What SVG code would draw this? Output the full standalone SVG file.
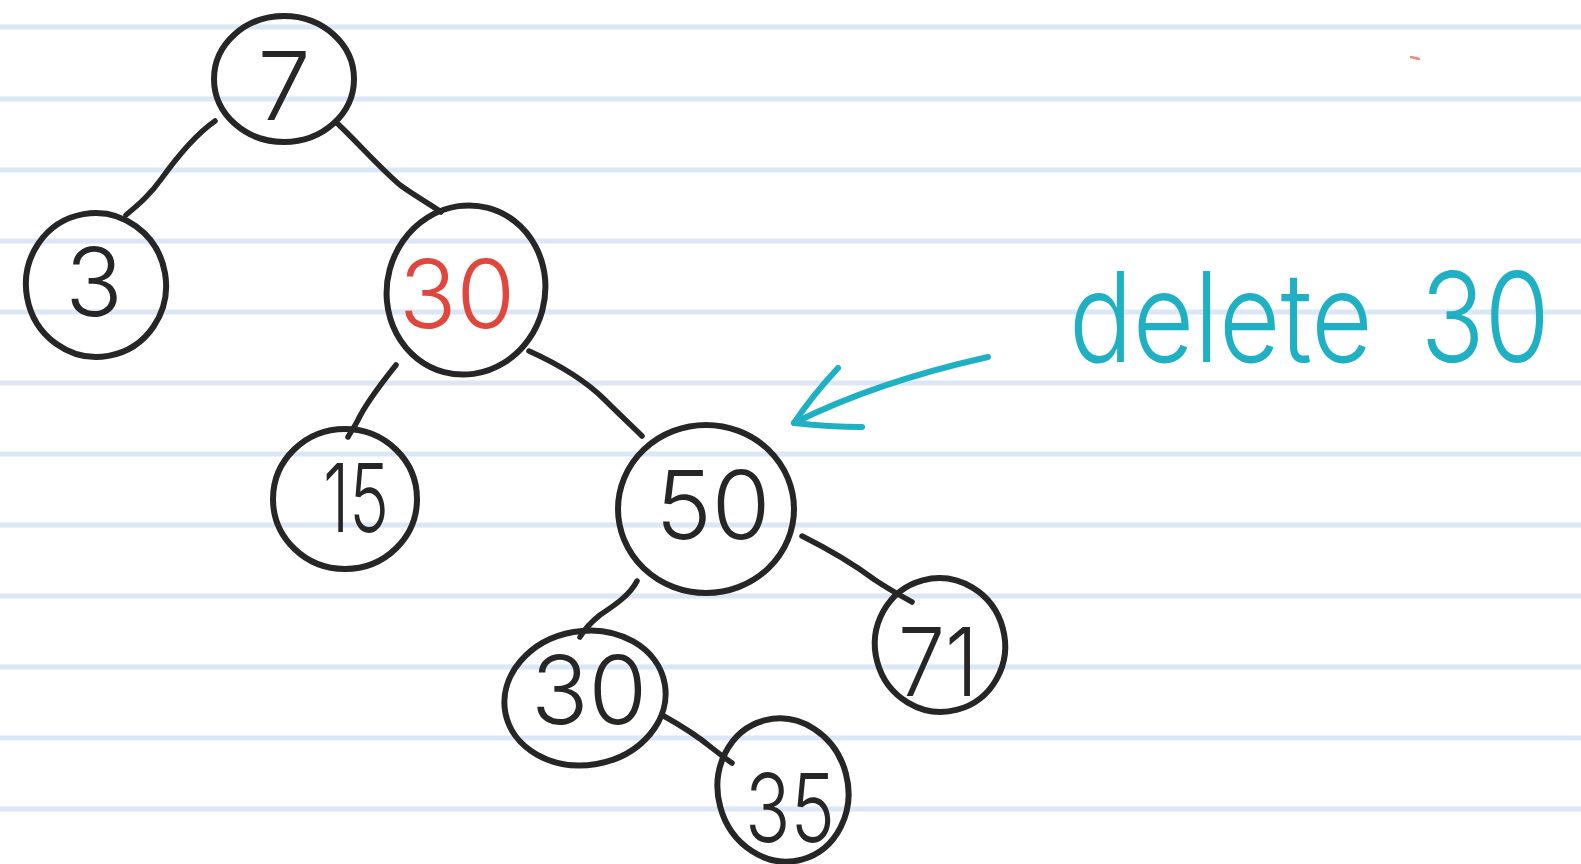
<svg xmlns="http://www.w3.org/2000/svg" width="1581" height="864" viewBox="0 0 1581 864">
  <style>
    .rule { stroke: #dbe6f6; stroke-width: 5; }
    .ring { fill: none; stroke: #262626; stroke-width: 6; stroke-linecap: round; }
    .edge { fill: none; stroke: #262626; stroke-width: 5.5; stroke-linecap: round; stroke-linejoin: round; }
    .num { font-family: Inter, "Open Sans", "Liberation Sans", sans-serif; font-weight: 300; font-size: 95px; fill: #262626; text-anchor: middle; }
    .hot { fill: #e0463c; }
    .note { font-family: Inter, "Open Sans", "Liberation Sans", sans-serif; font-weight: 300; font-size: 106px; fill: #1fb0c3; word-spacing: 18px; }
    .pen { fill: none; stroke: #1fb0c3; stroke-width: 6; stroke-linecap: round; stroke-linejoin: round; }
  </style>

  <rect width="1581" height="864" fill="#ffffff"/>

  <!-- ruled paper -->
  <g id="paper">
    <line class="rule" x1="0" y1="27" x2="1581" y2="27"/>
    <line class="rule" x1="0" y1="99" x2="1581" y2="99"/>
    <line class="rule" x1="0" y1="170" x2="1581" y2="170"/>
    <line class="rule" x1="0" y1="241" x2="1581" y2="241"/>
    <line class="rule" x1="0" y1="312" x2="1581" y2="312"/>
    <line class="rule" x1="0" y1="383" x2="1581" y2="383"/>
    <line class="rule" x1="0" y1="454" x2="1581" y2="454"/>
    <line class="rule" x1="0" y1="525" x2="1581" y2="525"/>
    <line class="rule" x1="0" y1="596" x2="1581" y2="596"/>
    <line class="rule" x1="0" y1="667" x2="1581" y2="667"/>
    <line class="rule" x1="0" y1="738" x2="1581" y2="738"/>
    <line class="rule" x1="0" y1="809" x2="1581" y2="809"/>
  </g>

  <!-- tree edges -->
  <g id="connectors">
    <path class="edge" d="M215,121 C195,135 175,160 162,178 C150,195 138,205 126,215"/>
    <path class="edge" d="M338,124 C360,145 380,168 400,185 C415,196 430,204 441,212"/>
    <path class="edge" d="M396,365 C380,385 365,405 358,420 C354,428 350,433 348,437"/>
    <path class="edge" d="M529,351 C560,365 585,380 605,400 C620,415 633,427 642,436"/>
    <path class="edge" d="M637,581 C630,595 615,605 600,615 C590,623 584,630 580,637"/>
    <path class="edge" d="M802,536 C830,550 855,565 875,580 C890,590 903,597 912,602"/>
    <path class="edge" d="M662,715 C680,725 700,738 712,748 C722,756 728,760 732,763"/>
  </g>

  <!-- nodes -->
  <g id="node-7">
    <ellipse class="ring" cx="284" cy="79" rx="70" ry="63"/>
    <text class="num" x="284" y="120" font-size="105">7</text>
  </g>
  <g id="node-3">
    <ellipse class="ring" cx="96" cy="285" rx="70" ry="72" transform="rotate(-10 96 285)"/>
    <text class="num" x="94" y="316">3</text>
  </g>
  <g id="node-30-root">
    <ellipse class="ring" cx="466" cy="290" rx="79" ry="85" transform="rotate(15 466 290)"/>
    <text class="num hot" x="457" y="328">30</text>
  </g>
  <g id="node-15">
    <ellipse class="ring" cx="345" cy="499" rx="72" ry="70"/>
    <text class="num" x="356" y="532" font-size="90" textLength="66" lengthAdjust="spacingAndGlyphs">15</text>
  </g>
  <g id="node-50">
    <ellipse class="ring" cx="706" cy="509" rx="88" ry="84"/>
    <text class="num" x="713" y="539">50</text>
  </g>
  <g id="node-71">
    <ellipse class="ring" cx="940" cy="645" rx="65" ry="67" transform="rotate(-15 940 645)"/>
    <text class="num" x="938" y="696" font-size="105" textLength="80" lengthAdjust="spacingAndGlyphs">71</text>
  </g>
  <g id="node-30-leaf">
    <ellipse class="ring" cx="585" cy="698" rx="81" ry="67" transform="rotate(-10 585 698)"/>
    <text class="num" x="589" y="724" font-size="80">30</text>
  </g>
  <g id="node-35">
    <ellipse class="ring" cx="783" cy="790" rx="65" ry="72" transform="rotate(-15 783 790)"/>
    <text class="num" x="790" y="842" font-size="95" textLength="90" lengthAdjust="spacingAndGlyphs">35</text>
  </g>

  <!-- annotation -->
  <g id="annotation">
    <path class="pen" d="M988,357 C930,370 860,390 794,423"/>
    <path class="pen" d="M838,368 Q812,396 794,423 Q830,427 862,427"/>
    <text class="note" x="0" y="0" transform="translate(1069 362) scale(1 1.18)">delete 30</text>
  </g>

  <!-- stray pen dot -->
  <path d="M1411,57 L1419,59" stroke="#f08a80" stroke-width="2.5" stroke-linecap="round" fill="none"/>
</svg>
